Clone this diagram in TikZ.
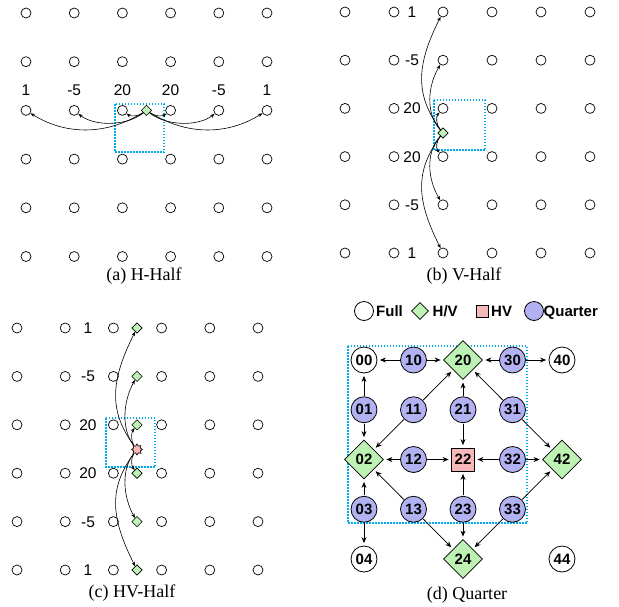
\documentclass[tikz,border=0pt]{standalone}
\usepackage{fontspec}
\setmainfont{Liberation Serif}
\setsansfont{Liberation Sans}
\usetikzlibrary{shapes.geometric,arrows.meta}

\definecolor{hvgreen}{RGB}{190,242,180}
\definecolor{qblue}{RGB}{178,178,242}
\definecolor{hvpink}{RGB}{246,184,184}
\definecolor{boxcyan}{RGB}{0,172,236}

\tikzset{
  pix/.style={circle, draw, line width=0.7pt, minimum size=10pt, inner sep=0pt},
  hsmall/.style={diamond, draw, fill=hvgreen, line width=0.6pt, minimum width=10.5pt, minimum height=10.5pt, inner sep=0pt},
  hvstar/.style={star, star points=8, star point ratio=1.5, draw, fill=hvpink, line width=0.6pt, minimum size=11pt, inner sep=0pt},
  lbl/.style={font=\sffamily\fontsize{15.5}{18}\selectfont, inner sep=0pt, anchor=base},
  captxt/.style={font=\rmfamily\fontsize{18}{20}\selectfont, inner sep=0pt, anchor=base},
  selbox/.style={draw=boxcyan, line width=1.8pt, dash pattern=on 1.5pt off 1.5pt},
  arr/.style={-{Stealth[length=4.5pt,width=3.4pt]}, line width=0.6pt},
  bold/.style={font=\sffamily\bfseries\fontsize{15}{17}\selectfont},
  full/.style={circle, draw, fill=white, line width=0.8pt, minimum size=26pt, inner sep=0pt, bold},
  quarter/.style={full, fill=qblue},
  halfhv/.style={diamond, draw, fill=hvgreen, line width=0.8pt, minimum width=39pt, minimum height=39pt, inner sep=0pt, bold},
  hvsq/.style={rectangle, draw, fill=hvpink, line width=0.8pt, minimum size=23pt, inner sep=0pt, bold},
  lgtxt/.style={bold, inner sep=0pt, anchor=base west},
  qarr/.style={-{Stealth[length=6pt,width=5pt]}, line width=0.8pt, shorten >=2.5pt, shorten <=0.5pt}
}

\begin{document}
\begin{tikzpicture}[x=1pt, y=-1pt]
\useasboundingbox (0,0) rectangle (619,606);

% ---------------- (a) H-Half ----------------
\foreach \i in {0,...,5}
  \foreach \j in {0,...,5}
    \node[pix] (a\i\j) at ({26+48.2*\i},{13+48.7*\j}) {};
\foreach \i/\t in {0/1,1/-5,2/20,3/20,4/-5,5/1}
  \node[lbl] (al\i) at ({26+48.2*\i},95) {\t};
\draw[selbox] (115,104) rectangle (164,152);
\node[hsmall] (ad) at (146.5,110.4) {};
\draw[arr] (ad) .. controls +(-40,25) and +(40,25) .. (a02);
\draw[arr] (ad) .. controls +(-20,16) and +(20,16) .. (a12);
\draw[arr] (ad) .. controls +(-8,6) and +(8,6) .. (a22);
\draw[arr] (ad) .. controls +(8,6) and +(-8,6) .. (a32);
\draw[arr] (ad) .. controls +(20,16) and +(-20,16) .. (a42);
\draw[arr] (ad) .. controls +(40,25) and +(-40,25) .. (a52);
\node[captxt] (capa) at (144,280) {(a) H-Half};

% ---------------- (b) V-Half ----------------
\foreach \i in {0,...,5}
  \foreach \j in {0,...,5}
    \node[pix] (b\i\j) at ({345+49*\i},{12+48.2*\j}) {};
\foreach \j/\t in {0/1,1/-5,2/20,3/20,4/-5,5/1}
  \node[lbl] (bl\j) at (412,{17.5+48.2*\j}) {\t};
\draw[selbox] (434,100) rectangle (485,150);
\node[hsmall] (bd) at (443,133) {};
\draw[arr] (bd) .. controls +(-30,-40) and +(-25,50) .. (b20);
\draw[arr] (bd) .. controls +(-18,-20) and +(-15,25) .. (b21);
\draw[arr] (bd) .. controls +(-7,-8) and +(-7,8) .. (b22);
\draw[arr] (bd) .. controls +(-7,8) and +(-7,-8) .. (b23);
\draw[arr] (bd) .. controls +(-18,20) and +(-15,-25) .. (b24);
\draw[arr] (bd) .. controls +(-30,40) and +(-25,-50) .. (b25);
\node[captxt] (capb) at (464,280) {(b) V-Half};

% ---------------- (c) HV-Half ----------------
\foreach \i in {0,...,5}
  \foreach \j in {0,...,5}
    \node[pix] (c\i\j) at ({17+48.2*\i},{328+48.4*\j}) {};
\foreach \j/\t in {0/1,1/-5,2/20,3/20,4/-5,5/1}
  \node[lbl] (cl\j) at (88,{333.5+48.4*\j}) {\t};
\draw[selbox] (106,418) rectangle (155,467);
\foreach \j in {0,...,5}
  \node[hsmall] (cd\j) at (137,{328+48.4*\j}) {};
\node[hvstar] (cs) at (137,449.5) {};
\draw[arr] (cs) .. controls +(-30,-40) and +(-25,50) .. (cd0);
\draw[arr] (cs) .. controls +(-16,-20) and +(-14,25) .. (cd1);
\draw[arr] (cs) .. controls +(-6,-8) and +(-6,8) .. (cd2);
\draw[arr] (cs) .. controls +(-6,8) and +(-6,-8) .. (cd3);
\draw[arr] (cs) .. controls +(-16,20) and +(-14,-25) .. (cd4);
\draw[arr] (cs) .. controls +(-30,40) and +(-25,-50) .. (cd5);
\node[captxt] (capc) at (132,597) {(c) HV-Half};

% ---------------- (d) Quarter ----------------
% legend
\node[full, minimum size=19pt] (lg1) at (364,311) {};
\node[lgtxt] (lt1) at (376,316.5) {Full};
\node[halfhv, minimum width=17pt, minimum height=17pt] (lg2) at (420,311) {};
\node[lgtxt] (lt2) at (432.5,316.5) {H/V};
\node[hvsq, minimum size=12pt] (lg3) at (482,311) {};
\node[lgtxt] (lt3) at (491,316.5) {HV};
\node[quarter, minimum size=19pt] (lg4) at (534,311) {};
\node[lgtxt] (lt4) at (543.5,316.5) {Quarter};

\draw[selbox] (348,346) rectangle (527,523);

\foreach \i/\j in {0/0,4/0,0/4,4/4}
  \node[full] (q\i\j) at ({364+49.5*\i},{360+49.75*\j}) {\i\j};
\foreach \i/\j in {1/0,3/0,0/1,1/1,2/1,3/1,1/2,3/2,0/3,1/3,2/3,3/3}
  \node[quarter] (q\i\j) at ({364+49.5*\i},{360+49.75*\j}) {\i\j};
\foreach \i/\j in {2/0,0/2,4/2,2/4}
  \node[halfhv] (q\i\j) at ({364+49.5*\i},{360+49.75*\j}) {\i\j};
\node[hvsq] (q22) at ({364+49.5*2},{360+49.75*2}) {22};

\foreach \s/\t in {10/00,10/20,30/20,30/40,01/00,01/02,11/20,11/02,21/20,21/22,31/20,31/42,12/02,12/22,32/22,32/42,03/02,03/04,13/02,13/24,23/22,23/24,33/42,33/24}
  \draw[qarr] (q\s) -- (q\t);

\node[captxt] (capd) at (467,599) {(d) Quarter};
\end{tikzpicture}
\end{document}
